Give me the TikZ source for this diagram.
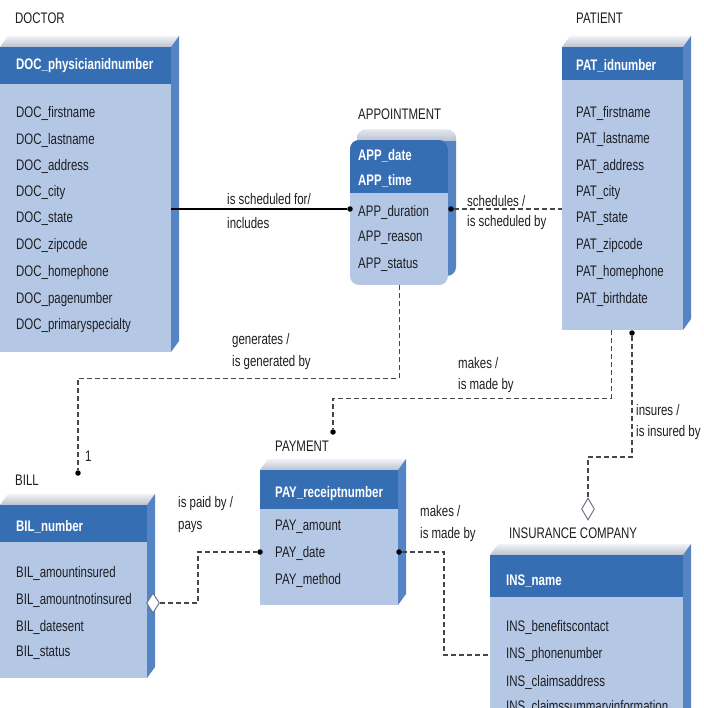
\documentclass[tikz,border=0pt]{standalone}
\usepackage{fontspec}
\setmainfont[FakeStretch=0.75]{Liberation Sans}
\usetikzlibrary{calc,shapes.geometric}
\definecolor{hdr}{RGB}{54,110,180}
\definecolor{bodyc}{RGB}{180,200,229}
\definecolor{sidec}{RGB}{84,132,196}
\definecolor{topl}{RGB}{240,242,246}
\definecolor{topd}{RGB}{186,194,208}
\definecolor{txt}{RGB}{30,30,35}
\definecolor{lnc}{RGB}{70,70,75}
\definecolor{diac}{RGB}{110,120,140}

\tikzset{
  attr/.style={anchor=west, font=\fontsize{15.3}{17}\selectfont, text=txt, inner sep=0},
  keyattr/.style={anchor=west, font=\fontsize{15.3}{17}\selectfont\bfseries, text=white, inner sep=0},
  enttitle/.style={anchor=west, font=\fontsize{15.3}{17}\selectfont, text=txt, inner sep=0},
  rellabel/.style={anchor=west, font=\fontsize{15.3}{17}\selectfont, text=txt, inner sep=0},
  dashc/.style={draw=lnc, line width=1.1pt, dash pattern=on 5pt off 3pt},
  solidc/.style={draw=black, line width=1.5pt},
  dotc/.style={circle, fill=black, inner sep=0, minimum size=5.5pt},
  diac/.style={diamond, draw=diac, fill=white, line width=1pt, inner sep=0, minimum width=13pt, minimum height=22pt},
  boxnode/.style={inner sep=0, anchor=north west},
}

\newcommand{\erbox}[6]{%
  \shade[top color=topl, bottom color=topd] (#2,#3) -- ({#2+8},{#3-11}) -- ({#4+8},{#3-11}) -- (#4,#3) -- cycle;
  \fill[sidec] (#4,#3) -- ({#4+8},{#3-11}) -- ({#4+8},{#6-11}) -- (#4,#6) -- cycle;
  \fill[bodyc] (#2,#5) rectangle (#4,#6);
  \fill[hdr] (#2,#3) rectangle (#4,#5);
  \node[boxnode, minimum width={#4-#2}, minimum height={#6-#3}] (#1) at (#2,#3) {};
}

\begin{document}
\begin{tikzpicture}[x=1pt,y=-1pt]
\useasboundingbox (0,0) rectangle (703,708);
\clip (0,0) rectangle (703,708);
\fill[white] (0,0) rectangle (703,708);

% ---------- DOCTOR ----------
\erbox{doc}{0}{47}{171}{84}{352}
\node[enttitle] (docT) at (15,18) {DOCTOR};
\node[keyattr] (docK) at (16,66) {DOC\_physicianidnumber};
\node[attr] (doc1) at (16,113) {DOC\_firstname};
\node[attr] (doc2) at (16,140) {DOC\_lastname};
\node[attr] (doc3) at (16,166) {DOC\_address};
\node[attr] (doc4) at (16,193) {DOC\_city};
\node[attr] (doc5) at (16,219) {DOC\_state};
\node[attr] (doc6) at (16,246) {DOC\_zipcode};
\node[attr] (doc7) at (16,273) {DOC\_homephone};
\node[attr] (doc8) at (16,300) {DOC\_pagenumber};
\node[attr] (doc9) at (16,326) {DOC\_primaryspecialty};

% ---------- PATIENT ----------
\erbox{pat}{562}{47}{683}{80}{330}
\node[enttitle] (patT) at (576,18) {PATIENT};
\node[keyattr] (patK) at (576,66) {PAT\_idnumber};
\node[attr] (pat1) at (576,113) {PAT\_firstname};
\node[attr] (pat2) at (576,139) {PAT\_lastname};
\node[attr] (pat3) at (576,166) {PAT\_address};
\node[attr] (pat4) at (576,193) {PAT\_city};
\node[attr] (pat5) at (576,219) {PAT\_state};
\node[attr] (pat6) at (576,246) {PAT\_zipcode};
\node[attr] (pat7) at (576,273) {PAT\_homephone};
\node[attr] (pat8) at (576,299) {PAT\_birthdate};

% ---------- APPOINTMENT ----------
\fill[sidec, rounded corners=9] (357,130) rectangle (456,276);
\begin{scope}
  \clip[rounded corners=9] (357,130) rectangle (456,276);
  \shade[top color=topl, bottom color=topd] (345,126) rectangle (462,141);
\end{scope}
\begin{scope}
  \clip[rounded corners=9] (350,140) rectangle (448,285);
  \fill[bodyc] (350,140) rectangle (448,285);
  \fill[hdr] (350,140) rectangle (448,193);
\end{scope}
\node[boxnode, minimum width=98, minimum height=145] (appt) at (350,140) {};
\node[enttitle] (apptT) at (358,114) {APPOINTMENT};
\node[keyattr] (apptK1) at (358,156) {APP\_date};
\node[keyattr] (apptK2) at (358,181) {APP\_time};
\node[attr] (appt1) at (358,212) {APP\_duration};
\node[attr] (appt2) at (358,238) {APP\_reason};
\node[attr] (appt3) at (358,265) {APP\_status};

% ---------- BILL ----------
\erbox{bil}{0}{505}{147}{542}{678}
\node[enttitle] (bilT) at (15,480) {BILL};
\node[keyattr] (bilK) at (16,527) {BIL\_number};
\node[attr] (bil1) at (16,573) {BIL\_amountinsured};
\node[attr] (bil2) at (16,600) {BIL\_amountnotinsured};
\node[attr] (bil3) at (16,627) {BIL\_datesent};
\node[attr] (bil4) at (16,653) {BIL\_status};

% ---------- PAYMENT ----------
\erbox{pay}{260}{470}{398}{509}{605}
\node[enttitle] (payT) at (275,446) {PAYMENT};
\node[keyattr] (payK) at (275,494) {PAY\_receiptnumber};
\node[attr] (pay1) at (275,527) {PAY\_amount};
\node[attr] (pay2) at (275,553) {PAY\_date};
\node[attr] (pay3) at (275,580) {PAY\_method};

% ---------- INSURANCE COMPANY ----------
\erbox{ins}{490}{555}{683}{597}{760}
\node[enttitle] (insT) at (509,533) {INSURANCE COMPANY};
\node[keyattr] (insK) at (506,581) {INS\_name};
\node[attr] (ins1) at (506,627) {INS\_benefitscontact};
\node[attr] (ins2) at (506,655) {INS\_phonenumber};
\node[attr] (ins3) at (506,682) {INS\_claimsaddress};
\node[attr] (ins4) at (506,708) {INS\_claimssummaryinformation};

% ---------- connectors ----------
% doctor - appointment
\node[dotc] (d1) at (350,209) {};
\draw[solidc] (doc.east |- d1) -- (d1);
\node[rellabel] (l1a) at (227,199) {is scheduled for/};
\node[rellabel] (l1b) at (227,223) {includes};

% appointment - patient
\node[dotc] (d2) at (451,209) {};
\draw[dashc] (d2) -- (pat.west |- d2);
\node[rellabel] (l2a) at (467,201) {schedules /};
\node[rellabel] (l2b) at (467,223) {is scheduled by};

% appointment - bill
\node[dotc] (d3) at (78,473) {};
\draw[dashc] (appt.south) -- ++(0,93) -| (d3);
\node[rellabel] (l3a) at (232,341) {generates /};
\node[rellabel] (l3b) at (232,363) {is generated by};
\node[rellabel] (l3c) at (85,456) {1};

% patient - payment
\node[dotc] (d4) at (333,432) {};
\draw[dashc] ($(pat.south)+(-11.5,0)$) -- ++(0,68) -| (d4);
\node[rellabel] (l4a) at (458,363) {makes /};
\node[rellabel] (l4b) at (458,386) {is made by};

% patient - insurance company
\node[dotc] (d5) at (632,333) {};
\node[diac] (dia1) at (588,509) {};
\draw[dashc] (d5) -- ++(0,124) -| (dia1.north);
\node[rellabel] (l5a) at (636,410) {insures /};
\node[rellabel] (l5b) at (636,433) {is insured by};

% bill - payment
\node[diac, minimum height=20pt, minimum width=13pt] (dia2) at (153,603) {};
\node[dotc] (d6) at (260,552) {};
\draw[dashc] (dia2.east) -| ($(d6)+(-62,0)$) -- (d6);
\node[rellabel] (l6a) at (178,504) {is paid by /};
\node[rellabel] (l6b) at (178,527) {pays};

% payment - insurance company
\node[dotc] (d7) at (399,552) {};
\draw[dashc] (d7) -- ++(45,0) |- (ins.west |- 0,655);
\node[rellabel] (l7a) at (420,511) {makes /};
\node[rellabel] (l7b) at (420,535) {is made by};
\end{tikzpicture}
\end{document}
